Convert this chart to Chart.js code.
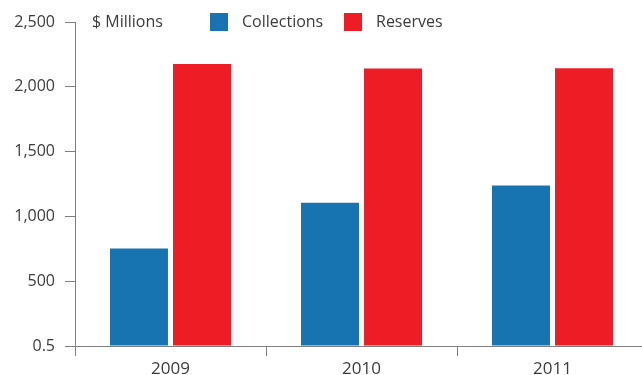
<!DOCTYPE html>
<html>
<head>
<meta charset="utf-8">
<script src="https://cdn.jsdelivr.net/npm/chart.js@4.4.0/dist/chart.umd.min.js"></script>
<style>
  html, body { margin: 0; padding: 0; background: #fff; overflow: hidden; }
  #wrap { width: 642px; height: 375px; overflow: hidden; }
</style>
</head>
<body>
<div id="wrap">
  <canvas id="barChart" width="648" height="375"></canvas>
</div>
<script>
const years = ['2009', '2010', '2011'];
const collections = [752, 1106, 1239];
const reserves = [2175, 2142, 2144];
const yTicks = [0, 500, 1000, 1500, 2000, 2500];
const yTickLabels = ['0.5', '500', '1,000', '1,500', '2,000', '2,500'];
const unitLabel = '$ Millions';

const textColor = '#3c3c3c';
const axisColor = '#7f7f7f';
const fontFamily = '"Open Sans", "Noto Sans", sans-serif';

// legend drawn by hand so it can sit on the top tick line
const topLegend = {
    id: 'topLegend',
    afterDraw(chart) {
        const ctx = chart.ctx;
        const y = 22;
        ctx.save();
        ctx.font = '16px ' + fontFamily;
        ctx.fillStyle = textColor;
        ctx.textBaseline = 'middle';
        ctx.textAlign = 'left';
        ctx.fillText(unitLabel, 92, y);
        const items = [[210, 242], [344, 376]];
        chart.data.datasets.forEach((ds, i) => {
            ctx.fillStyle = ds.backgroundColor;
            ctx.fillRect(items[i][0], y - 9, 18, 18);
            ctx.fillStyle = textColor;
            ctx.fillText(ds.label, items[i][1], y);
        });
        ctx.restore();
    }
};

const ctx = document.getElementById('barChart').getContext('2d');
new Chart(ctx, {
    type: 'bar',
    data: {
        labels: years,
        datasets: [
            {
                label: 'Collections',
                data: collections,
                backgroundColor: '#1874b0',
                barPercentage: 0.92,
                categoryPercentage: 0.66
            },
            {
                label: 'Reserves',
                data: reserves,
                backgroundColor: '#ee1c25',
                barPercentage: 0.92,
                categoryPercentage: 0.66
            }
        ]
    },
    options: {
        responsive: false,
        animation: false,
        layout: { padding: { top: 22, right: 0, left: 0, bottom: 0 } },
        plugins: {
            legend: { display: false },
            tooltip: { enabled: false }
        },
        scales: {
            x: {
                afterFit(scale) { scale.height = 29; },
                grid: {
                    offset: true,
                    drawOnChartArea: false,
                    tickLength: 10,
                    color: axisColor
                },
                border: { color: axisColor, width: 1 },
                ticks: {
                    padding: 3,
                    color: textColor,
                    font: { family: fontFamily, size: 17 }
                }
            },
            y: {
                min: 0,
                max: 2500,
                afterFit(scale) { scale.width = 75; },
                afterBuildTicks(scale) {
                    scale.ticks = yTicks.map(v => ({ value: v }));
                },
                grid: {
                    drawOnChartArea: false,
                    tickLength: 10,
                    color: axisColor
                },
                border: { color: axisColor, width: 1 },
                ticks: {
                    padding: 10,
                    color: textColor,
                    font: { family: fontFamily, size: 16 },
                    callback: (value) => yTickLabels[yTicks.indexOf(value)]
                }
            }
        }
    },
    plugins: [topLegend]
});
</script>
</body>
</html>
